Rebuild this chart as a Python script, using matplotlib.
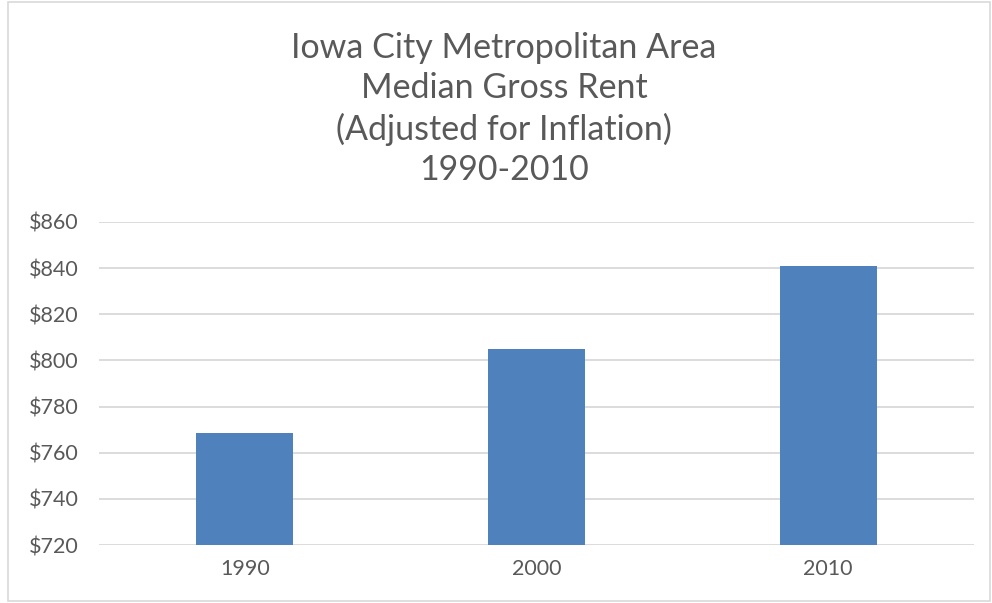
import matplotlib
matplotlib.use("Agg")
import matplotlib.pyplot as plt
import matplotlib.patches as patches

years = ["1990", "2000", "2010"]
rent = [768.5, 805, 841]
y_ticks = [720, 740, 760, 780, 800, 820, 840, 860]
title = "Iowa City Metropolitan Area\nMedian Gross Rent\n(Adjusted for Inflation)\n1990-2010"

plt.rcParams['font.family'] = ['Lato', 'DejaVu Sans']
text_color = '#595959'

fig = plt.figure(figsize=(9.92, 6.03), dpi=100)
ax = fig.add_axes([99 / 992, (603 - 545) / 603, 875 / 992, 323 / 603])

x = range(len(years))
ax.bar(x, rent, width=0.333, color='#4F81BD', zorder=3)

ax.set_xlim(-0.5, 2.5)
ax.set_ylim(720, 860)
ax.set_yticks(y_ticks)
ax.set_yticklabels([f"${v}" for v in y_ticks])
ax.set_xticks(list(x))
ax.set_xticklabels(years)
ax.tick_params(axis='both', length=0, labelsize=15.5, colors=text_color)
ax.tick_params(axis='y', pad=14.5)
ax.tick_params(axis='x', pad=10)
ax.grid(axis='y', color='#D9D9D9', linewidth=1.3, zorder=0)
for s in ax.spines.values():
    s.set_visible(False)

fig.text(0.508, 0.819, title, ha='center', va='center', fontsize=24.5,
         color=text_color, linespacing=1.32)

# chart border
fig.patches.append(patches.Rectangle((8 / 992, 2 / 603), 982 / 992, 599 / 603,
                                     transform=fig.transFigure, fill=False,
                                     edgecolor='#D9D9D9', linewidth=1.2))

fig.savefig("out.png", dpi=100)
